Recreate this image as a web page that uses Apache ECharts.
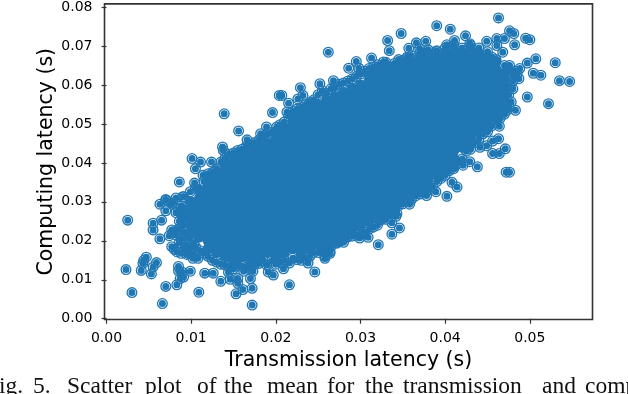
<!DOCTYPE html>
<html lang="en">

<head>
  <meta charset="UTF-8">
  <title>Fig. 5</title>
  <script src="https://cdn.jsdelivr.net/npm/echarts@6/dist/echarts.min.js"></script>
  <style>
    html, body { margin: 0; padding: 0; background: #fff; overflow: hidden; }
    #main { position: absolute; left: 0; top: 0; width: 628px; height: 394px; }
  </style>
</head>

<body>
  <div id="main"></div>
  <script>
    var xTicks = [0, 0.01, 0.02, 0.03, 0.04, 0.05]
    var yTicks = [0, 0.01, 0.02, 0.03, 0.04, 0.05, 0.06, 0.07, 0.08]
    var xName = 'Transmission latency (s)'
    var yName = 'Computing latency (s)'
    var captionWords = ['Fig.', '5.', 'Scatter', 'plot', 'of', 'the', 'mean', 'for', 'the', 'transmission', 'and', 'comp']

    // points, around the edge of the cloud
    var leftEdge = [
      [.0139,.0526],[.0156,.0482],[.0101,.0411],[.0111,.0402],[.0105,.0385],[.0124,.0402],[.0086,.0351],[.0070,.0304],
      [.0137,.0441],[.0138,.0432],[.0025,.0253],[.0023,.0126],[.0030,.0067],[.0066,.0039],[.0109,.0068],[.0172,.0035],
      [.0153,.0064],[.0216,.0087],[.0070,.0083],[.0083,.0087],[.0172,.0078],[.0161,.0075],[.0041,.0124],[.0053,.0115],
      [.0059,.0144],[.0047,.0158],[.0044,.0150],[.0043,.0142],[.0055,.0133],[.0063,.0205],[.0055,.0228],[.0055,.0245],
      [.0065,.0253],[.0074,.0213],[.0063,.0294],[.0070,.0306],[.0070,.0277],[.0077,.0294],[.0082,.0272],[.0077,.0228],
      [.0077,.0185],[.0085,.0134],[.0085,.0123],[.0089,.0120],[.0087,.0103],[.0099,.0122],[.0114,.0368],[.0104,.0348],
      [.0091,.0313],[.0099,.0326],[.0078,.0297],[.0090,.0313],[.0091,.0240],[.0079,.0223],[.0083,.0172],[.0099,.0181],
      [.0091,.0107],[.0095,.0275],[.0090,.0262],[.0086,.0250],[.0088,.0205],[.0094,.0190],[.0102,.0165],[.0108,.0155],
      [.0082,.0310],[.0088,.0290],[.0092,.0285],[.0085,.0278],[.0088,.0270],[.0095,.0255],[.0085,.0230],[.0090,.0225],
      [.0082,.0215],[.0086,.0195],[.0092,.0178],[.0097,.0168],[.0102,.0155],[.0095,.0165],[.0088,.0168],[.0080,.0178]
    ]
    var lowerEdge = [
      [.0116,.0117],[.0126,.0117],[.0135,.0096],[.0144,.0119],[.0146,.0101],[.0155,.0103],[.0155,.0091],[.0162,.0122],
      [.0173,.0122],[.0170,.0103],[.0189,.0138],[.0191,.0120],[.0197,.0112],[.0209,.0128],[.0216,.0143],[.0238,.0143],
      [.0246,.0120],[.0173,.0147],[.0258,.0155],[.0264,.0172],[.0259,.0189],[.0272,.0194],[.0321,.0190],[.0337,.0217],
      [.0346,.0233],[.0309,.0209],[.0299,.0207],[.0280,.0196],[.0258,.0187],[.0264,.0168],[.0258,.0160],[.0337,.0246],
      [.0342,.0263],[.0358,.0294],[.0378,.0316],[.0402,.0314],[.0323,.0253],[.0343,.0270],[.0389,.0326],[.0414,.0338],
      [.0408,.0350],[.0421,.0394],[.0438,.0390],[.0429,.0403],[.0441,.0440],[.0449,.0444],[.0456,.0456],[.0463,.0462],
      [.0456,.0424],[.0464,.0424],[.0471,.0436],[.0472,.0376],[.0476,.0376],[.0464,.0494]
    ]
    var upperEdge = [
      [.0196,.0529],[.0189,.0492],[.0229,.0593],[.0207,.0573],[.0204,.0573],[.0166,.0459],[.0182,.0475],[.0201,.0492],
      [.0213,.0530],[.0215,.0553],[.0226,.0564],[.0232,.0573],[.0241,.0556],[.0252,.0603],[.0268,.0611],[.0262,.0684],
      [.0295,.0660],[.0286,.0643],[.0298,.0643],[.0313,.0669],[.0327,.0659],[.0332,.0714],[.0334,.0688],[.0348,.0732],
      [.0355,.0671],[.0357,.0694],[.0366,.0708],[.0377,.0712],[.0370,.0693],[.0378,.0680],[.0390,.0686],[.0390,.0752],
      [.0402,.0703],[.0406,.0743],[.0411,.0714],[.0424,.0726],[.0429,.0706],[.0449,.0712],[.0461,.0719],[.0470,.0719],
      [.0461,.0701],[.0463,.0772],[.0468,.0684],[.0476,.0739],[.0481,.0732],[.0482,.0703],[.0495,.0720],[.0500,.0716],
      [.0530,.0657],[.0507,.0667],[.0497,.0656],[.0513,.0625],[.0504,.0630],[.0535,.0611],[.0547,.0609],[.0522,.0552],
      [.0497,.0569],[.0487,.0616],[.0476,.0650],[.0488,.0642],[.0483,.0635],[.0474,.0590],[.0478,.0556],[.0467,.0535],
      [.0473,.0535],[.0483,.0535],[.0472,.0605],[.0462,.0560],[.0458,.0520]
    ]
    // second row of rings, just outside the solid part
    var topRim = [
      [.0105,.0335],[.0115,.0352],[.0120,.0372],[.0125,.0375],[.0130,.0385],[.0135,.0402],[.0140,.0412],[.0145,.0422],
      [.0150,.0425],[.0155,.0432],[.0160,.0435],[.0165,.0442],[.0170,.0446],[.0175,.0452],[.0180,.0458],[.0185,.0465],
      [.0190,.0472],[.0195,.0478],[.0205,.0498],[.0210,.0505],[.0215,.0520],[.0220,.0532],[.0225,.0538],[.0230,.0542],
      [.0235,.0550],[.0240,.0552],[.0245,.0562],[.0250,.0575],[.0255,.0585],[.0260,.0578],[.0265,.0590],[.0270,.0592],
      [.0275,.0602],[.0280,.0605],[.0285,.0610],[.0290,.0615],[.0295,.0622],[.0300,.0628],[.0305,.0635],[.0310,.0642],
      [.0315,.0645],[.0320,.0652],[.0325,.0648],[.0330,.0658],[.0340,.0655],[.0345,.0665],[.0350,.0662],[.0355,.0670],
      [.0360,.0675],[.0370,.0682],[.0380,.0690],[.0390,.0688],[.0400,.0695],[.0410,.0702],[.0420,.0695],[.0430,.0702],
      [.0440,.0695],[.0450,.0685],[.0455,.0672],[.0460,.0665],[.0470,.0650],[.0475,.0635],[.0480,.0625],[.0480,.0610],
      [.0475,.0575],[.0480,.0590],[.0470,.0560],[.0485,.0630]
    ]
    var bottomRim = [
      [.0095,.0215],[.0098,.0205],[.0103,.0195],[.0105,.0185],[.0110,.0175],[.0115,.0168],[.0120,.0160],[.0125,.0150],
      [.0130,.0145],[.0135,.0140],[.0140,.0138],[.0145,.0135],[.0150,.0128],[.0155,.0135],[.0160,.0135],[.0165,.0132],
      [.0170,.0130],[.0175,.0140],[.0180,.0142],[.0185,.0150],[.0195,.0148],[.0200,.0140],[.0205,.0145],[.0210,.0150],
      [.0220,.0155],[.0225,.0152],[.0230,.0150],[.0235,.0155],[.0240,.0160],[.0245,.0170],[.0250,.0170],[.0255,.0175],
      [.0260,.0180],[.0265,.0185],[.0270,.0195],[.0275,.0198],[.0280,.0205],[.0285,.0210],[.0290,.0212],[.0295,.0215],
      [.0300,.0220],[.0305,.0222],[.0310,.0230],[.0315,.0235],[.0320,.0240],[.0325,.0255],[.0330,.0255],[.0335,.0270],
      [.0340,.0275],[.0345,.0290],[.0350,.0295],[.0355,.0305],[.0360,.0305],[.0365,.0315],[.0370,.0320],[.0375,.0325],
      [.0380,.0330],[.0385,.0340],[.0390,.0352],[.0395,.0360],[.0400,.0368],[.0405,.0380],[.0410,.0385],[.0415,.0400],
      [.0420,.0410],[.0425,.0430],[.0430,.0435],[.0435,.0452],[.0440,.0462],[.0445,.0475],[.0450,.0480],[.0455,.0495],
      [.0460,.0505],[.0465,.0515],[.0470,.0525],[.0475,.0545]
    ]

    // the solid middle of the cloud, x then the y values seen in that column
    var coreColumns = [
      [.010, [.022,.024,.026,.028,.030]],
      [.011, [.021,.023,.025,.027,.029,.031,.033]],
      [.012, [.018,.020,.022,.024,.026,.028,.030,.032,.034,.036]],
      [.013, [.017,.019,.021,.023,.025,.027,.029,.031,.033,.035,.037]],
      [.014, [.016,.018,.020,.022,.024,.026,.028,.030,.032,.034,.036,.038,.040]],
      [.015, [.015,.017,.019,.021,.023,.025,.027,.029,.031,.033,.035,.037,.039,.041]],
      [.016, [.016,.018,.020,.022,.024,.026,.028,.030,.032,.034,.036,.038,.040,.042]],
      [.017, [.015,.017,.019,.021,.023,.025,.027,.029,.031,.033,.035,.037,.039,.041,.043]],
      [.018, [.016,.018,.020,.022,.024,.026,.028,.030,.032,.034,.036,.038,.040,.042,.044]],
      [.019, [.017,.019,.021,.023,.025,.027,.029,.031,.033,.035,.037,.039,.041,.043,.045]],
      [.020, [.016,.018,.020,.022,.024,.026,.028,.030,.032,.034,.036,.038,.040,.042,.044,.046,.048]],
      [.021, [.017,.019,.021,.023,.025,.027,.029,.031,.033,.035,.037,.039,.041,.043,.045,.047,.049]],
      [.022, [.018,.020,.022,.024,.026,.028,.030,.032,.034,.036,.038,.040,.042,.044,.046,.048,.050,.052]],
      [.023, [.017,.019,.021,.023,.025,.027,.029,.031,.033,.035,.037,.039,.041,.043,.045,.047,.049,.051,.053]],
      [.024, [.018,.020,.022,.024,.026,.028,.030,.032,.034,.036,.038,.040,.042,.044,.046,.048,.050,.052,.054]],
      [.025, [.019,.021,.023,.025,.027,.029,.031,.033,.035,.037,.039,.041,.043,.045,.047,.049,.051,.053,.055]],
      [.026, [.020,.022,.024,.026,.028,.030,.032,.034,.036,.038,.040,.042,.044,.046,.048,.050,.052,.054,.056]],
      [.027, [.021,.023,.025,.027,.029,.031,.033,.035,.037,.039,.041,.043,.045,.047,.049,.051,.053,.055,.057]],
      [.028, [.022,.024,.026,.028,.030,.032,.034,.036,.038,.040,.042,.044,.046,.048,.050,.052,.054,.056,.058]],
      [.029, [.023,.025,.027,.029,.031,.033,.035,.037,.039,.041,.043,.045,.047,.049,.051,.053,.055,.057,.059]],
      [.030, [.024,.026,.028,.030,.032,.034,.036,.038,.040,.042,.044,.046,.048,.050,.052,.054,.056,.058,.060]],
      [.031, [.025,.027,.029,.031,.033,.035,.037,.039,.041,.043,.045,.047,.049,.051,.053,.055,.057,.059,.061,.063]],
      [.032, [.026,.028,.030,.032,.034,.036,.038,.040,.042,.044,.046,.048,.050,.052,.054,.056,.058,.060,.062,.064]],
      [.033, [.027,.029,.031,.033,.035,.037,.039,.041,.043,.045,.047,.049,.051,.053,.055,.057,.059,.061,.063,.065]],
      [.034, [.028,.030,.032,.034,.036,.038,.040,.042,.044,.046,.048,.050,.052,.054,.056,.058,.060,.062,.064]],
      [.035, [.031,.033,.035,.037,.039,.041,.043,.045,.047,.049,.051,.053,.055,.057,.059,.061,.063,.065]],
      [.036, [.032,.034,.036,.038,.040,.042,.044,.046,.048,.050,.052,.054,.056,.058,.060,.062,.064,.066]],
      [.037, [.033,.035,.037,.039,.041,.043,.045,.047,.049,.051,.053,.055,.057,.059,.061,.063,.065,.067]],
      [.038, [.034,.036,.038,.040,.042,.044,.046,.048,.050,.052,.054,.056,.058,.060,.062,.064,.066,.068]],
      [.039, [.037,.039,.041,.043,.045,.047,.049,.051,.053,.055,.057,.059,.061,.063,.065,.067]],
      [.040, [.038,.040,.042,.044,.046,.048,.050,.052,.054,.056,.058,.060,.062,.064,.066,.068]],
      [.041, [.039,.041,.043,.045,.047,.049,.051,.053,.055,.057,.059,.061,.063,.065,.067,.069]],
      [.042, [.044,.046,.048,.050,.052,.054,.056,.058,.060,.062,.064,.066,.068]],
      [.043, [.045,.047,.049,.051,.053,.055,.057,.059,.061,.063,.065,.067,.069]],
      [.044, [.048,.050,.052,.054,.056,.058,.060,.062,.064,.066,.068]],
      [.045, [.049,.051,.053,.055,.057,.059,.061,.063,.065,.067]],
      [.046, [.052,.054,.056,.058,.060,.062,.064,.066]],
      [.047, [.055,.057,.059,.061,.063]]
    ]

    var corePoints = []
    coreColumns.forEach(function (c) {
      c[1].forEach(function (y) { corePoints.push([c[0], y]) })
    })

    var blue = '#1f77b4'
    // matplotlib marker: ring, thin pale gap, dot
    var ringSymbol = 'path://M0,-11A11,11 0 1 1 0,11A11,11 0 1 1 0,-11Z' +
      'M0,-8.4A8.4,8.4 0 1 0 0,8.4A8.4,8.4 0 1 0 0,-8.4Z' +
      'M0,-7A7,7 0 1 1 0,7A7,7 0 1 1 0,-7Z'

    var tickLabel = { color: '#000', fontFamily: 'DejaVu Sans', fontSize: 14, margin: 12,
      formatter: function (v) { return v.toFixed(2) } }
    var captionX = [-14, 33, 67, 145, 197, 224, 267, 327, 365, 403, 542, 585]

    var myChart = echarts.init(document.getElementById('main'), null, { renderer: 'canvas' })
    myChart.setOption({
      animation: false,
      grid: { show: true, left: 104.5, top: 3.5, width: 488, height: 316, borderColor: '#333', borderWidth: 1.6, containLabel: false },
      xAxis: {
        type: 'value', min: -0.00024, max: 0.0574,
        name: xName, nameLocation: 'middle', nameGap: 31,
        nameTextStyle: { color: '#000', fontFamily: 'DejaVu Sans', fontSize: 20.5 },
        splitLine: { show: false },
        axisLine: { show: false },
        axisTick: { show: true, length: 5, customValues: xTicks, lineStyle: { color: '#333', width: 1.2 } },
        axisLabel: Object.assign({ customValues: xTicks }, tickLabel)
      },
      yAxis: {
        type: 'value', min: -0.0002, max: 0.0808,
        name: yName, nameLocation: 'middle', nameGap: 47, nameMoveOverlap: false,
        nameTextStyle: { color: '#000', fontFamily: 'DejaVu Sans', fontSize: 20.5 },
        splitLine: { show: false },
        axisLine: { show: false },
        axisTick: { show: true, length: 5, customValues: yTicks, lineStyle: { color: '#333', width: 1.2 } },
        axisLabel: Object.assign({ customValues: yTicks }, tickLabel)
      },
      series: [
        { type: 'scatter', data: leftEdge.concat(lowerEdge, upperEdge, topRim, bottomRim), symbol: ringSymbol, symbolSize: 11,
          itemStyle: { color: blue, opacity: 1 }, silent: true, clip: false },
        { type: 'scatter', data: corePoints, symbol: 'circle', symbolSize: 11,
          itemStyle: { color: blue, opacity: 1 }, silent: true, clip: false }
      ],
      graphic: captionWords.map(function (w, i) {
        return { type: 'text', left: captionX[i], top: 375, silent: true,
          style: { text: w, fill: '#111', font: '23.5px "Liberation Serif"' } }
      })
    })
  </script>
</body>

</html>
